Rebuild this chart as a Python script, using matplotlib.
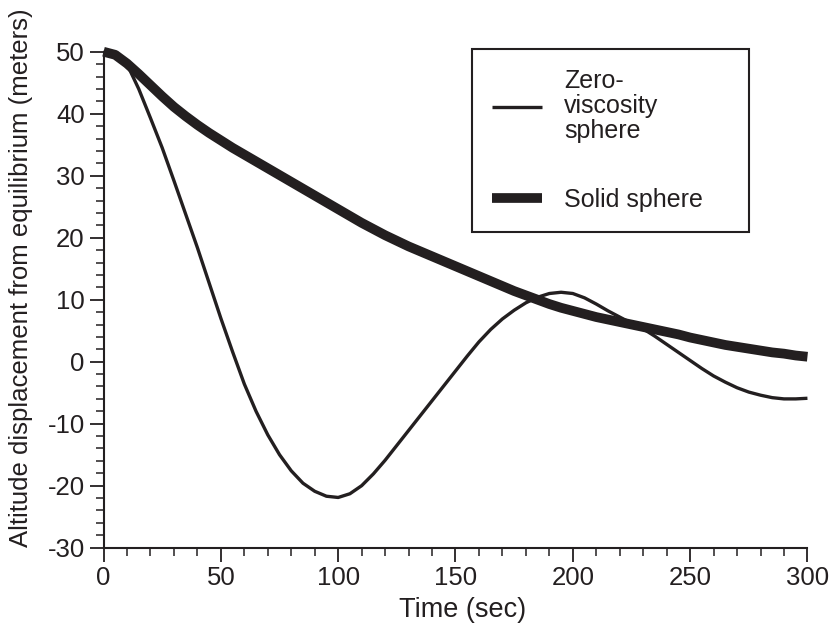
import matplotlib.pyplot as plt
from matplotlib.ticker import MultipleLocator

plt.rcParams['font.family'] = ['Liberation Sans', 'DejaVu Sans']
plt.rcParams['axes.unicode_minus'] = False

# time axis (sec), read every 5 s
t = list(range(0, 301, 5))
solid = [50.0, 49.5, 48.1, 46.4, 44.6, 42.8, 41.1, 39.6, 38.2, 36.9, 35.7, 34.5, 33.4,
         32.3, 31.2, 30.1, 29.0, 27.9, 26.8, 25.7, 24.6, 23.5, 22.4, 21.4, 20.4, 19.5,
         18.6, 17.8, 17.0, 16.2, 15.4, 14.6, 13.8, 13.0, 12.2, 11.4, 10.7, 10.0, 9.3,
         8.7, 8.2, 7.7, 7.2, 6.8, 6.4, 6.0, 5.6, 5.2, 4.8, 4.4, 3.9, 3.5, 3.1, 2.7,
         2.4, 2.1, 1.8, 1.5, 1.3, 1.0, 0.8]
zero = [50.0, 49.5, 48.0, 44.0, 39.3, 34.5, 29.2, 23.8, 18.4, 12.7, 7.0, 1.6, -3.6,
        -8.0, -11.8, -15.0, -17.6, -19.6, -20.9, -21.7, -21.9, -21.3, -20.0, -18.1,
        -15.9, -13.5, -11.1, -8.7, -6.3, -3.9, -1.5, 0.9, 3.2, 5.2, 6.9, 8.3, 9.5,
        10.4, 11.0, 11.2, 11.0, 10.3, 9.3, 8.2, 7.2, 6.2, 5.3, 4.1, 2.8, 1.5, 0.2,
        -1.1, -2.3, -3.3, -4.2, -4.9, -5.4, -5.8, -6.0, -6.0, -5.9]

ink = '#231f20'

fig = plt.figure(figsize=(8.35, 6.27), dpi=100)
ax = fig.add_axes([0.124, 0.1265, 0.843, 0.791])

ax.plot(t, zero, color=ink, lw=2.4, label='Zero-\nviscosity\nsphere', clip_on=False,
        solid_capstyle='butt', solid_joinstyle='round')
ax.plot(t, solid, color=ink, lw=7, label='Solid sphere', clip_on=False,
        solid_capstyle='butt', solid_joinstyle='round')

ax.set_xlim(0, 300)
ax.set_ylim(-30, 50)
ax.xaxis.set_major_locator(MultipleLocator(50))
ax.xaxis.set_minor_locator(MultipleLocator(10))
ax.yaxis.set_major_locator(MultipleLocator(10))
ax.yaxis.set_minor_locator(MultipleLocator(2))

for s in ['top', 'right']:
    ax.spines[s].set_visible(False)
for s in ['left', 'bottom']:
    ax.spines[s].set_linewidth(1.5)
    ax.spines[s].set_color(ink)

ax.tick_params(which='major', direction='out', length=10, width=1.3, colors=ink,
               labelsize=18.5, labelcolor=ink)
ax.tick_params(which='minor', direction='out', length=5.5, width=1.1, colors=ink)

ax.set_xlabel('Time (sec)', fontsize=19.5, color=ink)
ax.set_ylabel('Altitude displacement from equilibrium (meters)', fontsize=18.5, color=ink)
ax.xaxis.set_label_coords(0.51, -0.1)
ax.yaxis.set_label_coords(-0.1, 0.545)

leg = ax.legend(loc='upper left', bbox_to_anchor=(0.523, 0.632, 0.394, 0.3735),
                mode='expand', borderaxespad=0, fancybox=False, fontsize=18,
                borderpad=0.8, labelspacing=1.8, handletextpad=0.9, handlelength=2.0,
                framealpha=1)
leg.get_frame().set_edgecolor(ink)
leg.get_frame().set_linewidth(1.5)
for txt in leg.get_texts():
    txt.set_linespacing(1.05)
    txt.set_color(ink)

fig.savefig('out.png', dpi=100)
